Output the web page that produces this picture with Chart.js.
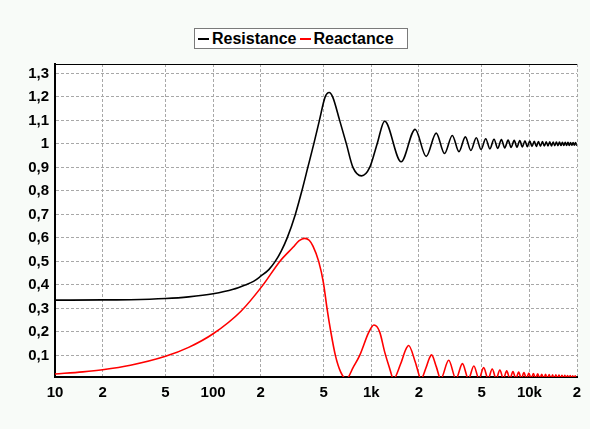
<!DOCTYPE html>
<html>
<head>
<meta charset="utf-8">
<script src="https://cdn.jsdelivr.net/npm/chart.js@4.4.1/dist/chart.umd.min.js"></script>
<style>
    html, body { margin: 0; padding: 0; background: #f8fbf8; }
    #wrap { position: relative; width: 590px; height: 429px; }
    #legend {
        position: absolute; left: 194px; top: 28px; width: 209px; height: 19px;
        border: 1px solid #7a7a7a; background: #fff;
        display: flex; align-items: center; padding-left: 3px; box-sizing: content-box;
        font: bold 16px "Liberation Sans", Arial, sans-serif; color: #000;
    }
    #legend .line { display: inline-block; width: 11px; height: 2px; margin-right: 3px; }
    #legend .txt { margin-right: 3px; }
</style>
</head>
<body>
<div id="wrap">
    <canvas id="chart" width="590" height="429"></canvas>
    <div id="legend">
        <span class="line" style="background:#000"></span><span class="txt">Resistance</span>
        <span class="line" style="background:#ff0000"></span><span class="txt">Reactance</span>
    </div>
</div>
<script>
// tick labels
const xTicks = [10, 20, 50, 100, 200, 500, 1000, 2000, 5000, 10000, 20000];
const xLabels = ['10', '2', '5', '100', '2', '5', '1k', '2', '5', '10k', '2'];
const yTicks = [0.1, 0.2, 0.3, 0.4, 0.5, 0.6, 0.7, 0.8, 0.9, 1, 1.1, 1.2, 1.3];

// Resistance
const resFreq = [
    10, 20, 30, 50, 70, 100, 134, 160, 180, 200, 225, 247, 270, 294, 331, 364, 397, 433, 470, 511, 542, 570,
    631, 696, 766, 868, 978, 1089, 1215, 1545, 1895, 2225, 2575, 2905, 3255, 3585, 3935,
    4265, 4615, 4945, 5295, 5625, 5975, 6305, 6655, 6985, 7335, 7665, 8015, 8345, 8695,
    9025, 9375, 9705, 10055, 10385, 10735, 11065, 11415, 11745, 12095, 12425, 12775,
    13105, 13455, 13785, 14135, 14465, 14815, 15145, 15495, 15825, 16175, 16505, 16855,
    17185, 17535, 17865, 18215, 18545, 18895, 19225, 19575, 19905, 20000
];
const resValues = [
    0.335, 0.336, 0.337, 0.342, 0.349, 0.362, 0.381, 0.4, 0.415, 0.437, 0.465, 0.5, 0.545, 0.6, 0.7, 0.8, 0.9, 1.0, 1.1, 1.2, 1.219, 1.2,
    1.1, 1.0, 0.9, 0.864, 0.9, 1.0, 1.097, 0.924, 1.062, 0.947, 1.046, 0.959, 1.036, 0.967, 1.03,
    0.972, 1.026, 0.976, 1.022, 0.979, 1.02, 0.981, 1.018, 0.983, 1.016, 0.985, 1.015, 0.986, 1.014,
    0.987, 1.013, 0.988, 1.012, 0.989, 1.011, 0.989, 1.01, 0.99, 1.01, 0.991, 1.009,
    0.991, 1.009, 0.991, 1.008, 0.992, 1.008, 0.992, 1.008, 0.993, 1.007, 0.993, 1.007,
    0.993, 1.007, 0.993, 1.006, 0.994, 1.006, 0.994, 1.006, 0.994, 0.996
];

// Reactance
const reaFreq = [
    10, 15, 20, 30, 50, 70, 100, 150, 207, 264, 320, 350, 379, 405, 428, 465, 498, 525, 555, 593, 640,
    696, 770, 845, 967, 1040, 1130, 1215, 1300, 1383, 1530, 1650, 1723, 1900, 2066, 2213, 2333,
    2406, 2580, 2749, 3089, 3432, 3772, 4115, 4455, 4798, 5138, 5481, 5821, 6164, 6504, 6847,
    7187, 7530, 7870, 8213, 8553, 8896, 9236, 9579, 9919, 10262, 10602, 10945, 11285, 11628,
    11968, 12311, 12651, 12994, 13334, 13677, 14017, 14360, 14700, 15043, 15383, 15726, 16066,
    16409, 16749, 17092, 17432, 17775, 18115, 18458, 18798, 19141, 19481, 19824, 20000
];
const reaValues = [
    0.021, 0.03, 0.039, 0.058, 0.096, 0.134, 0.192, 0.288, 0.4, 0.5, 0.56, 0.588, 0.598, 0.59, 0.565, 0.5, 0.41, 0.3, 0.2, 0.1, 0.03,
    0, 0.05, 0.1, 0.2, 0.229, 0.2, 0.115, 0.05, 0, 0.062, 0.124, 0.142, 0.071, 0, 0.045, 0.089,
    0.102, 0.051, 0, 0.079, 0, 0.065, 0, 0.055, 0, 0.048, 0, 0.042, 0, 0.038, 0,
    0.034, 0, 0.031, 0, 0.029, 0, 0.027, 0, 0.025, 0, 0.023, 0, 0.022, 0,
    0.02, 0, 0.019, 0, 0.018, 0, 0.017, 0, 0.017, 0, 0.016, 0, 0.015,
    0, 0.015, 0, 0.014, 0, 0.014, 0, 0.013, 0, 0.013, 0, 0.004
];

const tickFont = { family: '"Liberation Sans", Arial, sans-serif', size: 15, weight: 'bold' };

const framePlugin = {
    id: 'frame',
    beforeDraw(chart) {
        const { ctx, chartArea: a } = chart;
        ctx.save();
        ctx.fillStyle = '#ffffff';
        ctx.fillRect(a.left, a.top, a.right - a.left, a.bottom - a.top);
        ctx.restore();
    },
    afterDraw(chart) {
        const { ctx, chartArea: a } = chart;
        ctx.save();
        ctx.strokeStyle = '#000';
        ctx.lineWidth = 1;
        ctx.beginPath();
        ctx.moveTo(a.left, a.top + 0.5);
        ctx.lineTo(a.right, a.top + 0.5);
        ctx.stroke();
        ctx.restore();
    }
};

const toPoints = (xs, ys) => xs.map((x, i) => ({ x: x, y: ys[i] }));

new Chart(document.getElementById('chart'), {
    type: 'line',
    data: {
        datasets: [
            {
                label: 'Resistance',
                data: toPoints(resFreq, resValues),
                borderColor: '#000000',
                borderWidth: 1.6,
                pointRadius: 0,
                cubicInterpolationMode: 'monotone',
                fill: false,
            },
            {
                label: 'Reactance',
                data: toPoints(reaFreq, reaValues),
                borderColor: '#ff0000',
                borderWidth: 1.6,
                pointRadius: 0,
                cubicInterpolationMode: 'monotone',
                fill: false,
            },
        ],
    },
    options: {
        responsive: false,
        animation: false,
        layout: { padding: { left: 0, right: 13, top: 64, bottom: 0 } },
        plugins: { legend: { display: false }, tooltip: { enabled: false } },
        scales: {
            x: {
                type: 'logarithmic',
                min: 10,
                max: 20000,
                afterBuildTicks: (scale) => { scale.ticks = xTicks.map((v) => ({ value: v })); },
                afterFit: (scale) => { scale.height = 52; },
                ticks: {
                    callback: (v, i) => xLabels[i],
                    color: '#000',
                    font: tickFont,
                    padding: 7,
                    autoSkip: false,
                    maxRotation: 0,
                },
                grid: { color: '#a8a8a8', drawTicks: false },
                border: { color: '#000', width: 2, dash: [3, 2] },
            },
            y: {
                min: 0.008,
                max: 1.34,
                afterBuildTicks: (scale) => { scale.ticks = yTicks.map((v) => ({ value: v })); },
                afterFit: (scale) => { scale.width = 55; },
                ticks: {
                    callback: (v) => String(v).replace('.', ','),
                    color: '#000',
                    font: tickFont,
                    padding: 6,
                },
                grid: { color: '#a8a8a8', drawTicks: false },
                border: { color: '#000', width: 2, dash: [3, 2] },
            },
        },
    },
    plugins: [framePlugin],
});
</script>
</body>
</html>
